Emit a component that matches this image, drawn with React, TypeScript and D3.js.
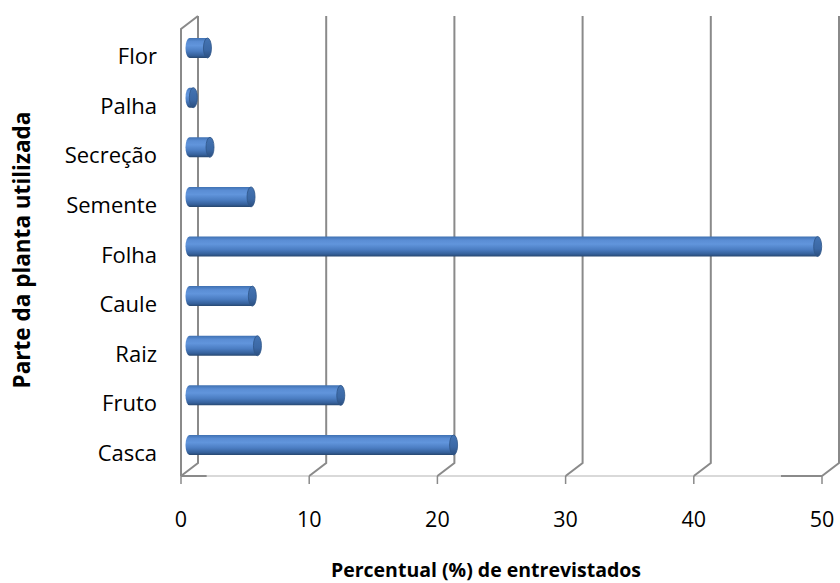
import React from "react";
import * as d3 from "d3";

const categories = ["Casca", "Fruto", "Raiz", "Caule", "Folha", "Semente", "Secreção", "Palha", "Flor"];
const values = [20.6, 11.8, 5.3, 4.9, 49.0, 4.8, 1.6, 0.3, 1.4];
const xTicks = [0, 10, 20, 30, 40, 50];
const xTitle = "Percentual (%) de entrevistados";
const yTitle = "Parte da planta utilizada";

const W = 840;
const H = 583;
const FONT = "'Open Sans', Lato, sans-serif";

export default function App() {
  const xFront = d3.scaleLinear().domain([0, 50]).range([181, 822]);
  const DX = 17;
  const DY = -13;
  const floorY = 476;
  const topY = 29;
  const xBar = d3.scaleLinear().domain([0, 50]).range([181 + DX / 2, 822 + DX / 2]);
  const y = d3
    .scaleBand<string>()
    .domain([...categories].reverse())
    .range([23.2, 469.8])
    .paddingInner(0)
    .paddingOuter(0);
  const barH = 20;
  const capRx = 4;
  const grid = "#8a8a8a";

  const data = categories.map((c, i) => ({ c, v: values[i] }));

  return (
    <svg
      width={W}
      height={H}
      style={{ position: "absolute", left: 0, top: 0, background: "#fff" }}
      fontFamily={FONT}
    >
      <defs>
        <linearGradient id="cyl" x1="0" y1="0" x2="0" y2="1">
          <stop offset="0%" stopColor="#3f71b2" />
          <stop offset="18%" stopColor="#5a8dd4" />
          <stop offset="38%" stopColor="#6195dc" />
          <stop offset="65%" stopColor="#4b7dc2" />
          <stop offset="88%" stopColor="#35609a" />
          <stop offset="100%" stopColor="#27476f" />
        </linearGradient>
        <linearGradient id="cap" x1="0" y1="0" x2="0" y2="1">
          <stop offset="0%" stopColor="#4474b3" />
          <stop offset="60%" stopColor="#3b68a5" />
          <stop offset="100%" stopColor="#2b4e7e" />
        </linearGradient>
      </defs>

      {/* floor front edge */}
      <line x1={xFront(0)} x2={xFront(50)} y1={floorY} y2={floorY} stroke="#d9d9d9" strokeWidth={2} />
      <line x1={xFront(0)} x2={xFront(2)} y1={floorY} y2={floorY} stroke={grid} strokeWidth={2} />
      <line x1={xFront(46.8)} x2={xFront(50)} y1={floorY} y2={floorY} stroke={grid} strokeWidth={2} />

      {/* left wall */}
      <polyline
        points={`${xFront(0)},${floorY} ${xFront(0)},${topY} ${xFront(0) + DX},${topY + DY}`}
        fill="none"
        stroke={grid}
        strokeWidth={2}
      />

      {/* back wall gridlines with floor diagonals */}
      {xTicks.map((t) => (
        <polyline
          key={"g" + t}
          points={`${xFront(t)},${floorY} ${xFront(t) + DX},${floorY + DY} ${xFront(t) + DX},${topY + DY}`}
          fill="none"
          stroke={grid}
          strokeWidth={2}
        />
      ))}

      {/* tick marks */}
      {xTicks.map((t) => (
        <line key={"t" + t} x1={xFront(t)} x2={xFront(t)} y1={floorY} y2={floorY + 8} stroke={grid} strokeWidth={1.5} />
      ))}

      {/* bars */}
      {data.map((d) => {
        const cy = (y(d.c) as number) + y.bandwidth() / 2;
        const x0 = xBar(0);
        const x1 = xBar(d.v);
        const top = cy - barH / 2;
        const bot = cy + barH / 2;
        const body = `M${x1},${top} L${x0},${top} A${capRx},${barH / 2} 0 0 0 ${x0},${bot} L${x1},${bot} Z`;
        return (
          <g key={d.c}>
            <path d={body} fill="url(#cyl)" />
            <ellipse cx={x1} cy={cy} rx={capRx} ry={barH / 2} fill="url(#cap)" stroke="#2f5688" strokeWidth={0.8} />
          </g>
        );
      })}

      {/* category labels */}
      {data.map((d) => {
        const cy = (y(d.c) as number) + y.bandwidth() / 2;
        return (
          <text key={"l" + d.c} x={157} y={cy + 16} textAnchor="end" fontSize={22} fill="#000">
            {d.c}
          </text>
        );
      })}

      {/* x tick labels */}
      {xTicks.map((t) => (
        <text key={"xl" + t} x={xFront(t)} y={527} textAnchor="middle" fontSize={21.5} fill="#000">
          {t}
        </text>
      ))}

      {/* axis titles */}
      <text x={486} y={577} textAnchor="middle" fontSize={19.5} fontWeight="bold" fill="#000">
        {xTitle}
      </text>
      <text
        transform={`translate(30,250) rotate(-90)`}
        textAnchor="middle"
        fontSize={22.5}
        fontWeight="bold"
        fill="#000"
      >
        {yTitle}
      </text>
    </svg>
  );
}
